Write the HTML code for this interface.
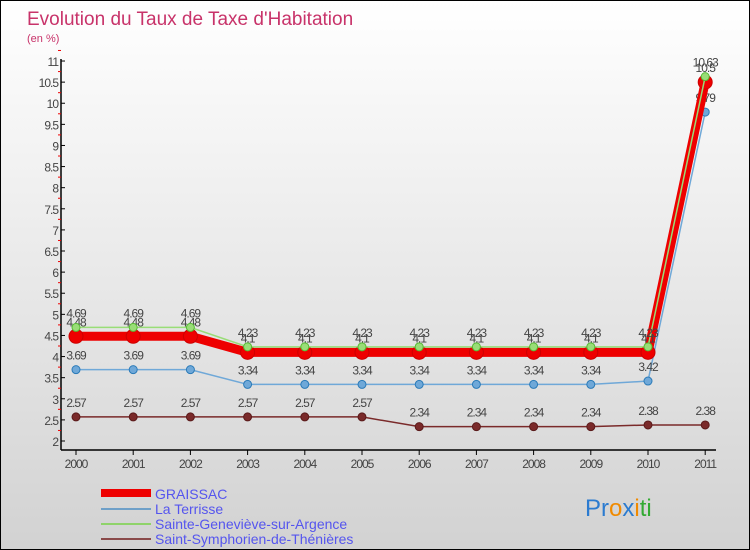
<!DOCTYPE html>
<html><head><meta charset="utf-8"><style>
body{margin:0}
#wrap{position:relative;width:748px;height:548px;border:1px solid #000;background:linear-gradient(#ffffff,#ebebeb 45%,#d2d2d2);font-family:"Liberation Sans",sans-serif;overflow:hidden}
svg text{font-family:"Liberation Sans",sans-serif}
</style></head><body>
<div id="wrap">
<svg id="c" width="748" height="548">
<text x="26" y="24" font-size="19" fill="#c8336a">Evolution du Taux de Taxe d'Habitation</text>
<text x="26" y="41" font-size="11" fill="#c8336a">(en %)</text>
<g id="axes"></g><g id="series"></g>
<g>
<rect x="100" y="488" width="50" height="8" fill="#e00"/>
<rect x="100" y="507" width="50" height="2" fill="#6fa0c8"/>
<rect x="100" y="522" width="50" height="2" fill="#8fd36a"/>
<rect x="100" y="537" width="50" height="2" fill="#8a4a4a"/>
<text x="154" y="498" font-size="14" fill="#5555ee">GRAISSAC</text>
<text x="154" y="513" font-size="14" fill="#5555ee">La Terrisse</text>
<text x="154" y="528" font-size="14" fill="#5555ee">Sainte-Geneviève-sur-Argence</text>
<text x="154" y="543" font-size="14" fill="#5555ee">Saint-Symphorien-de-Thénières</text>
</g>
<text x="584" y="515" font-size="24"><tspan fill="#2b7bd0">Pr</tspan><tspan fill="#f08a00">o</tspan><tspan fill="#2b7bd0">x</tspan><tspan fill="#f08a00">i</tspan><tspan fill="#33aa33">ti</tspan></text>
</svg></div>
<script>
const years=["2000","2001","2002","2003","2004","2005","2006","2007","2008","2009","2010","2011"];
const yTicks=[2,2.5,3,3.5,4,4.5,5,5.5,6,6.5,7,7.5,8,8.5,9,9.5,10,10.5,11];
const graissac=[4.48,4.48,4.48,4.1,4.1,4.1,4.1,4.1,4.1,4.1,4.1,10.5];
const laTerrisse=[3.69,3.69,3.69,3.34,3.34,3.34,3.34,3.34,3.34,3.34,3.42,9.79];
const sainteGenevieve=[4.69,4.69,4.69,4.23,4.23,4.23,4.23,4.23,4.23,4.23,4.23,10.63];
const saintSymphorien=[2.57,2.57,2.57,2.57,2.57,2.57,2.34,2.34,2.34,2.34,2.38,2.38];
const NS="http://www.w3.org/2000/svg";
const X=i=>75+i*57.2, Y=v=>440-(v-2)*42.22;
function mk(t,a,p){const e=document.createElementNS(NS,t);for(const k in a)e.setAttribute(k,a[k]);p.appendChild(e);return e;}
const ax=document.getElementById('axes');
let e=mk('line',{x1:60,y1:58,x2:60,y2:449,stroke:'#000','stroke-width':1.5},ax);


e=mk('line',{x1:60,y1:449,x2:715,y2:449,stroke:'#000','stroke-width':1.5},ax);


yTicks.forEach(v=>{
 mk('line',{x1:60,y1:Y(v),x2:64,y2:Y(v),stroke:'#000'},ax);
 mk('line',{x1:57,y1:Y(v+0.25),x2:60,y2:Y(v+0.25),stroke:'#e00'},ax);
 const t=mk('text',{x:57,y:Y(v)+5,'font-size':12,fill:'#444','text-anchor':'end','letter-spacing':'-1'},ax);
 t.textContent=String(v);
 
 
});
years.forEach((y,i)=>{
 mk('line',{x1:X(i),y1:449,x2:X(i),y2:454,stroke:'#000'},ax);
 const t=mk('text',{x:X(i),y:467,'font-size':12,fill:'#444','text-anchor':'middle','letter-spacing':'-1'},ax);
 t.textContent=y;
 
 
});
const sg=document.getElementById('series');
function draw(data,color,w,r,name,dark){
 const g=mk('g',{},sg);
 
 
 mk('polyline',{points:data.map((v,i)=>X(i)+','+Y(v)).join(' '),fill:'none',stroke:color,'stroke-width':w},g);
 data.forEach((v,i)=>{
  const c=mk('circle',{cx:X(i),cy:Y(v),r:r,fill:color,stroke:dark,'stroke-width':1},g);
  
  
  const t=mk('text',{x:X(i),y:Y(v)-10,'font-size':12,fill:'#444','text-anchor':'middle','letter-spacing':'-1'},g);
  t.textContent=String(v);
  
  
 });
}
draw(saintSymphorien,'#7a2a2a',1.5,4,'series-saint-symphorien','#5a1a1a');
draw(laTerrisse,'#6fa8d8',1.5,4,'series-la-terrisse','#2a7ab8');
draw(graissac,'#ee0000',9,7,'series-graissac','#cc0000');
draw(sainteGenevieve,'#99dd77',1.5,4,'series-sainte-genevieve','#55bb33');
</script>
</body></html>
